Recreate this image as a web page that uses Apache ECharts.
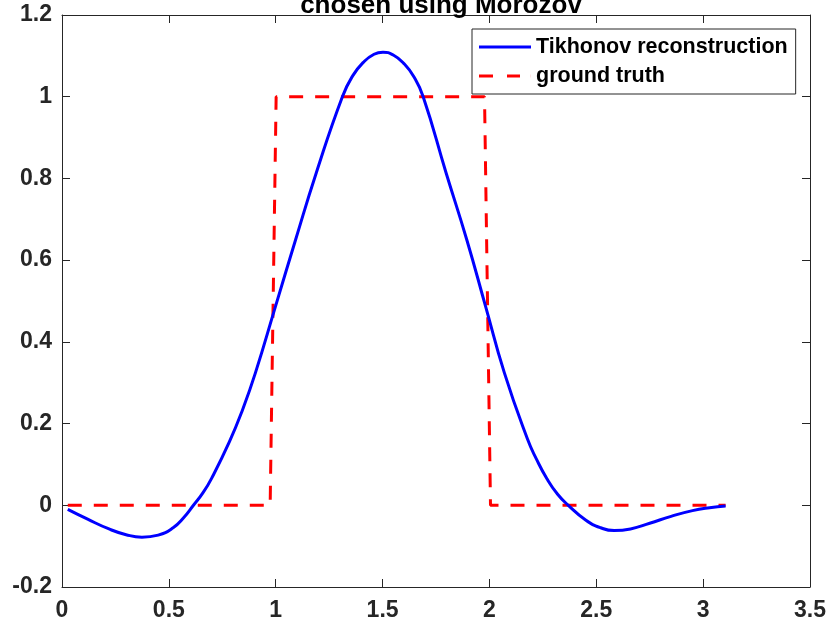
<!DOCTYPE html>
<html>
<head>
<meta charset="utf-8">
<script src="https://cdn.jsdelivr.net/npm/echarts@6/dist/echarts.min.js"></script>
<style>
html,body{margin:0;padding:0;background:#fff;}
#chart{width:830px;height:623px;}
</style>
</head>
<body>
<div id="chart"></div>
<script>
// Data
const titleText = 'chosen using Morozov';
const seriesNames = ['Tikhonov reconstruction', 'ground truth'];
const reconX = [0.027,0.12,0.22,0.30,0.374,0.45,0.52,0.57,0.615,0.66,0.70,0.783,0.845,0.905,0.999,1.093,1.190,1.312,1.36,1.41,1.46,1.502,1.55,1.60,1.645,1.690,1.797,1.894,1.982,2.070,2.178,2.22,2.269,2.319,2.369,2.45,2.52,2.584,2.66,2.75,2.85,2.95,3.03,3.105];
const reconY = [-0.010,-0.034,-0.058,-0.072,-0.078,-0.073,-0.055,-0.030,0.000,0.031,0.066,0.155,0.234,0.324,0.487,0.650,0.814,1.000,1.051,1.084,1.104,1.109,1.102,1.081,1.050,1.000,0.814,0.650,0.487,0.324,0.162,0.113,0.065,0.027,0.000,-0.036,-0.055,-0.062,-0.058,-0.044,-0.027,-0.013,-0.006,-0.002];
const truthX = [0.027,0.974,1.002,1.977,2.005,3.105];
const truthY = [0,0,1,1,0,0];
const xTicks = {min:0, max:3.5, step:0.5};
const yTicks = {min:-0.2, max:1.2, step:0.2};

const recon = reconX.map((x,i)=>[x,reconY[i]]);
const truth = truthX.map((x,i)=>[x,truthY[i]]);

const FONT = '"Liberation Sans", Arial, Helvetica, sans-serif';
const AXC = '#262626';

const chart = echarts.init(document.getElementById('chart'), null, {renderer:'canvas'});

function baseAxis(pos, showLabel, t, isX) {
  return {
    type:'value', position:pos, min:t.min, max:t.max, interval:t.step,
    splitLine:{show:false},
    axisLine:{show:true, onZero:false, lineStyle:{color:AXC, width:1}},
    axisTick:{show:true, inside:true, length:8, lineStyle:{color:AXC, width:1}},
    axisLabel:{show:showLabel, color:AXC, fontSize:23, fontWeight:'bold', fontFamily:FONT, margin: isX ? 12 : 10}
  };
}

chart.setOption({
  backgroundColor:'#ffffff',
  animation:false,
  title:{
    text:titleText, left:436, textAlign:'center', top:-12,
    textStyle:{fontSize:26, fontWeight:'bold', fontFamily:FONT, color:'#000'}
  },
  grid:{left:62, right:20, top:15, bottom:36, containLabel:false},
  xAxis:[baseAxis('bottom', true, xTicks, true), baseAxis('top', false, xTicks, true)],
  yAxis:[baseAxis('left', true, yTicks, false), baseAxis('right', false, yTicks, false)],
  legend:{
    show:true, orient:'vertical', left:472, top:29,
    backgroundColor:'#fff', borderColor:AXC, borderWidth:1,
    padding:[7,8,7,7], itemGap:7, itemWidth:52, itemHeight:3,
    textStyle:{fontSize:21.5, fontWeight:'bold', fontFamily:FONT, color:'#000'},
    data:[
      {name:seriesNames[0], icon:'path://M0,0h52v3h-52z', itemStyle:{color:'#0000ff'}},
      {name:seriesNames[1], icon:'path://M0,0h14v3h-14z M28,0h13v3h-13z M51.9,0h0.1v3h-0.1z', itemStyle:{color:'#ff0000'}}
    ]
  },
  series:[
    {name:seriesNames[0], type:'line', data:recon, smooth:0.5, showSymbol:false, symbol:'none',
     xAxisIndex:0, yAxisIndex:0,
     lineStyle:{color:'#0000ff', width:3}, itemStyle:{color:'#0000ff'}, z:3},
    {name:seriesNames[1], type:'line', data:truth, smooth:false, showSymbol:false, symbol:'none',
     xAxisIndex:0, yAxisIndex:0,
     lineStyle:{color:'#ff0000', width:3, type:[14,12]}, itemStyle:{color:'#ff0000'}, z:2}
  ]
});
</script>
</body>
</html>
